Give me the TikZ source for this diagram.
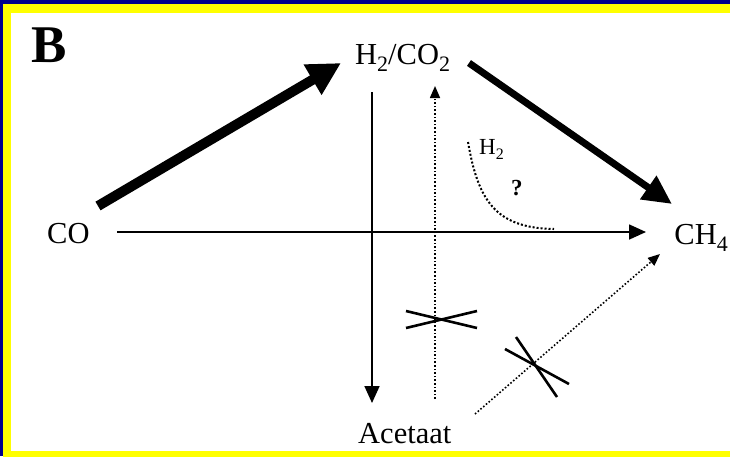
\documentclass[tikz,border=0pt]{standalone}
\usepackage{fontspec}
\setmainfont{Liberation Serif}
\usetikzlibrary{arrows.meta}
\definecolor{frameblue}{RGB}{0,0,140}
\definecolor{frameyellow}{RGB}{255,255,0}
\newcommand\bigsub[1]{\raisebox{-7pt}{\fontsize{22}{24}\selectfont #1}}
\newcommand\smallsub[1]{\raisebox{-5pt}{\fontsize{16}{18}\selectfont #1}}
\tikzset{
  lbl/.style={inner sep=0pt, font=\fontsize{30.5}{34}\selectfont},
  thickarrow/.style={line width=10pt, -{Triangle[length=33pt,width=33pt]}},
  thickarrowB/.style={line width=7pt, -{Triangle[length=29pt,width=27pt]}},
  thinarrow/.style={line width=1.7pt, -{Triangle[length=17pt,width=15pt]}},
  dotarrow/.style={line width=1.6pt, dash pattern=on 1.6pt off 2pt, -{Triangle[length=12pt,width=10pt]}},
  crossline/.style={line width=2.6pt},
}
\begin{document}
\begin{tikzpicture}[x=1pt,y=-1pt]
\clip (0,0) rectangle (730,456);
\fill[frameblue] (0,0) rectangle (730,456);
\fill[frameyellow] (3,4) rectangle (740,460);
\fill[white] (11,12.5) rectangle (740,451);

% labels
\node[inner sep=0pt, anchor=base west, font=\fontsize{53}{60}\selectfont\bfseries] (B) at (31,62) {B};
\node[lbl, anchor=base west] (CO) at (47,243) {CO};
\node[lbl, anchor=base west] (H2CO2) at (355,64) {H\bigsub{2}/CO\bigsub{2}};
\node[lbl, anchor=base east] (CH4) at (728,244) {CH\bigsub{4}};
\node[lbl, anchor=base west] (Acet) at (358,443) {Acetaat};
\node[inner sep=0pt, anchor=base west, font=\fontsize{23}{26}\selectfont] (H2lbl) at (479,154) {H\smallsub{2}};
\node[inner sep=0pt, anchor=base west, font=\fontsize{23}{26}\selectfont\bfseries] (q) at (511,195) {?};

% connector ends
\coordinate (COa) at (98,206);
\coordinate (Ha) at (341,63);
\coordinate (Hb) at (469,63);
\coordinate (Ca) at (672,204);
\coordinate (COb) at (117,232);
\coordinate (Cb) at (646,232);
\coordinate (Hdown) at (372,92);
\coordinate (Adown) at (372,403);
\coordinate (Aup) at (435,399);
\coordinate (Hup) at (435,86);
\coordinate (Adiag) at (475,414);
\coordinate (Cdiag) at (660,254);
\coordinate (curveS) at (468,142);
\coordinate (curveE) at (554,229);

\draw[thickarrow] (COa) -- (Ha);
\draw[thickarrowB] (Hb) -- (Ca);
\draw[thinarrow] (COb) -- (Cb);
\draw[thinarrow] (Hdown) -- (Adown);
\draw[dotarrow] (Aup) -- (Hup);
\draw[dotarrow] (Adiag) -- (Cdiag);
\draw[line width=2pt, dash pattern=on 2pt off 2pt] (curveS) .. controls (478,200) and (495,228) .. (curveE);

% crosses
\coordinate (x1a) at (406,311);
\coordinate (x1b) at (477,328);
\coordinate (x1c) at (406,328);
\coordinate (x1d) at (477,311);
\draw[crossline] (x1a) -- (x1b);
\draw[crossline] (x1c) -- (x1d);
\coordinate (x2a) at (505,349);
\coordinate (x2b) at (569,384);
\coordinate (x2c) at (516,337);
\coordinate (x2d) at (557,397);
\draw[crossline] (x2a) -- (x2b);
\draw[crossline] (x2c) -- (x2d);
\end{tikzpicture}
\end{document}
